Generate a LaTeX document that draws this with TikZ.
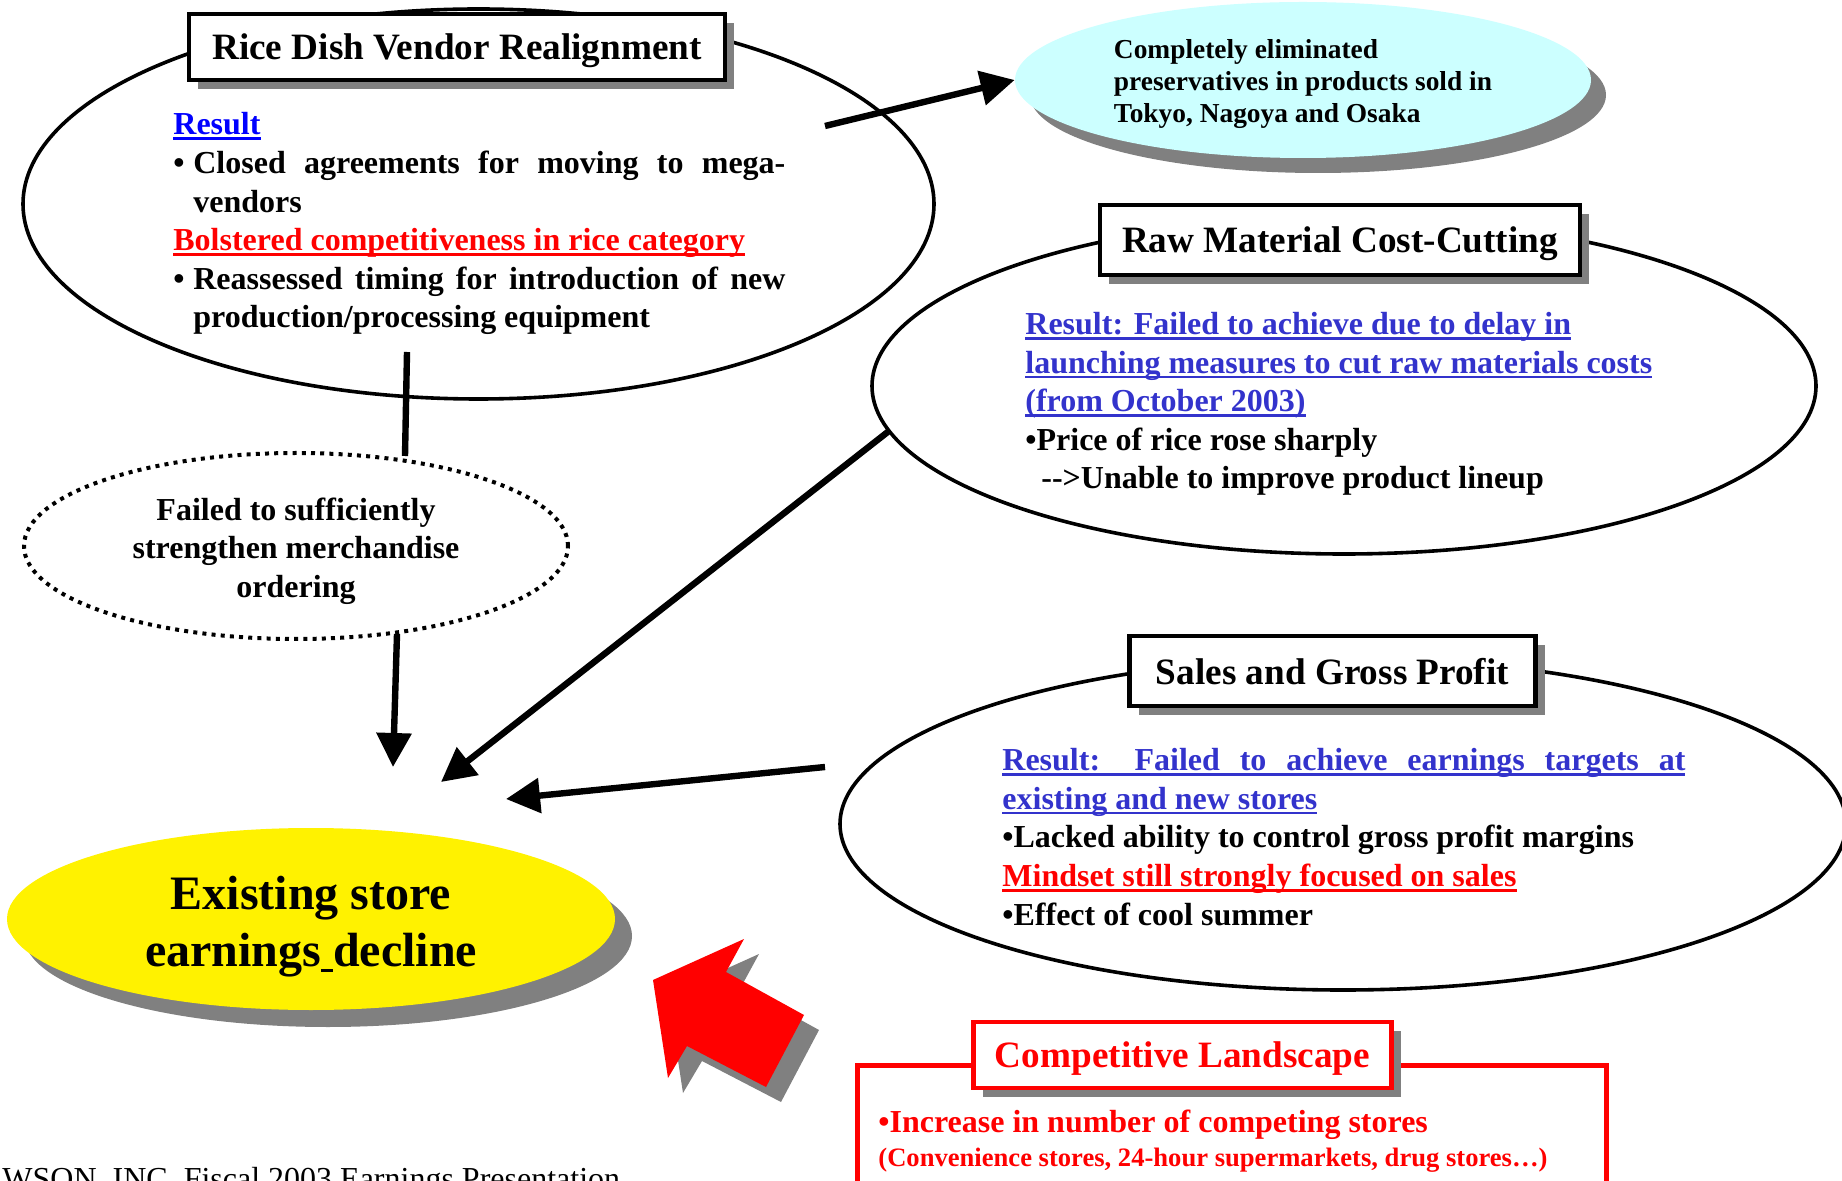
\documentclass[tikz,border=0pt]{standalone}
\usepackage{fontspec}
\setmainfont{Liberation Serif}
\usepackage{xcolor}
\usepackage{tikz}
\usetikzlibrary{shapes.geometric,arrows.meta,shadows}

\definecolor{resblue}{RGB}{51,51,204}
\definecolor{freshcyan}{RGB}{204,255,255}
\definecolor{shadowgray}{RGB}{128,128,128}

\newsavebox{\ulbox}
\newcommand{\tul}[1]{\leavevmode\sbox{\ulbox}{#1}\rlap{\rule[-2.6pt]{\wd\ulbox}{1.4pt}}\usebox{\ulbox}}
\newcommand{\bodyfont}{\fontsize{16}{19.3}\selectfont\bfseries}
\newcommand{\headfont}{\fontsize{18.6}{22}\selectfont\bfseries}

\begin{document}
\begin{tikzpicture}[x=0.5pt,y=-0.5pt,
    oval/.style={ellipse,draw,line width=1.8pt,fill=white,inner sep=0pt},
    headbox/.style={draw,line width=2.2pt,fill=white,inner sep=0pt,font=\headfont,text depth=0pt,
        drop shadow={shadow xshift=4.5pt,shadow yshift=-4.5pt,fill=shadowgray,opacity=1}},
    bigarrow/.style={line width=3.2pt,-{Triangle[length=17pt,width=17pt]}},
    bodytext/.style={anchor=base west,inner sep=0pt,font=\bodyfont,align=left}]
                    \path[use as bounding box,fill=white] (0,0) rectangle (1842,1181);
                    \clip (0,0) rectangle (1842,1181);

                    \node[oval,minimum width=455.5pt,minimum height=195pt] (rice) at (478.5,204) {};
                    \node[oval,minimum width=472pt,minimum height=168pt] (raw) at (1344,386) {};
                    \node[oval,minimum width=503pt,minimum height=166pt] (sales) at (1343,824) {};

                    \node[ellipse,fill=freshcyan,inner sep=0pt,minimum width=288pt,minimum height=78pt,
                        drop shadow={shadow xshift=7.5pt,shadow yshift=-7.5pt,fill=shadowgray,opacity=1}] (fresh) at (1303,80) {};
                    \node[align=left,inner sep=0pt,font=\fontsize{13.7}{16.2}\selectfont\bfseries] (freshtext) at (1303,84)
                        {Completely eliminated\\preservatives in products sold in\\Tokyo, Nagoya and Osaka};
                    \node[ellipse,draw,line width=2pt,dash pattern=on 2pt off 2.6pt,inner sep=0pt,
                        minimum width=272pt,minimum height=93pt] (order) at (296,546) {};
                    \node[align=center,inner sep=0pt,font=\bodyfont] (ordertext) at (296,551)
                        {Failed to sufficiently\\strengthen merchandise\\ordering};
                    \node[ellipse,fill=yellow,inner sep=0pt,minimum width=304pt,minimum height=91pt,
                        drop shadow={shadow xshift=8.5pt,shadow yshift=-8.5pt,fill=shadowgray,opacity=1}] (decline) at (311,919) {};
                    \node[align=center,inner sep=0pt,font=\fontsize{24}{28.5}\selectfont\bfseries] (declinetext) at (311,927)
                        {Existing store\\earnings\tul{\ }decline};

                    \coordinate (riceout) at (825,126);
                    \coordinate (riceleg) at (407,352);
                    \coordinate (ordertop) at (405,456);
                    \coordinate (orderout) at (397,634);
                    \coordinate (hitorder) at (393,767);
                    \coordinate (rawout) at (889,431);
                    \coordinate (hitraw) at (441,782);
                    \coordinate (salesout) at (825,767);
                    \coordinate (hitsales) at (506,799);

                    \draw[bigarrow] (riceout) -- (fresh.west);
                    \draw[line width=3.2pt] (riceleg) -- (ordertop);
                    \draw[bigarrow] (orderout) -- (hitorder);
                    \draw[bigarrow] (rawout) -- (hitraw);
                    \draw[bigarrow] (salesout) -- (hitsales);

                    \node[headbox,minimum width=268pt,minimum height=33pt] (ricehead) at (457,47) {Rice Dish Vendor Realignment};
                    \node[headbox,minimum width=240pt,minimum height=35pt] (rawhead) at (1340,240) {Raw Material Cost-Cutting};
                    \node[headbox,minimum width=203pt,minimum height=35pt] (saleshead) at (1332.5,671) {Sales and Gross Profit};

                    \node[bodytext] (ricetext) at (173,328) {{\color{blue}\tul{Result}}\\
                        \makebox[306pt][s]{\makebox[10pt][l]{•}Closed agreements for moving to mega-}\\
                        \hspace*{10pt}vendors\\
                        {\color{red}\tul{Bolstered competitiveness in rice category}}\\
                        \makebox[306pt][s]{\makebox[10pt][l]{•}Reassessed timing for introduction of new}\\
                        \hspace*{10pt}production/processing equipment};
                    \node[bodytext] (rawtext) at (1025,489) {{\color{resblue}\tul{Result: Failed to achieve due to delay in}}\\
                        {\color{resblue}\tul{launching measures to cut raw materials costs}}\\
                        {\color{resblue}\tul{(from October 2003)}}\\
                        •Price of rice rose sharply\\
                        \hspace*{8pt}-{}->Unable to improve product lineup};
                    \node[bodytext] (salestext) at (1002,925) {{\color{resblue}\tul{\makebox[341.5pt][s]{Result: Failed to achieve earnings targets at}}}\\
                        {\color{resblue}\tul{existing and new stores}}\\
                        •Lacked ability to control gross profit margins\\
                        {\color{red}\tul{Mindset still strongly focused on sales}}\\
                        •Effect of cool summer};

                    \foreach \d/\c in {15/shadowgray,0/red}
                        \fill[\c,shift={(\d,\d)}] (653,980) -- (744,939) -- (726,972) -- (804,1015)
                            -- (766,1087) -- (687,1046) -- (668,1078) -- cycle;

                    \draw[red,line width=2.5pt] (857,1250) -- (857,1065) -- (1606,1065) -- (1606,1250);
                    \node[headbox,draw=red,text=red,minimum width=209pt,minimum height=33pt] (comphead) at (1182.5,1055) {Competitive Landscape};
                    \node[bodytext,text=red] (comprise) at (878,1132) {•Increase in number of competing stores};
                    \node[anchor=base west,inner sep=0pt,text=red,font=\fontsize{13.3}{16}\selectfont\bfseries] (compkind) at (878,1166)
                        {(Convenience stores, 24-hour supermarkets, drug stores…)};

                    \node[anchor=base west,inner sep=0pt,font=\fontsize{16}{19}\selectfont] (footer) at (-38,1189)
                        {LAWSON, INC. Fiscal 2003 Earnings Presentation};
                \end{tikzpicture}
\end{document}
